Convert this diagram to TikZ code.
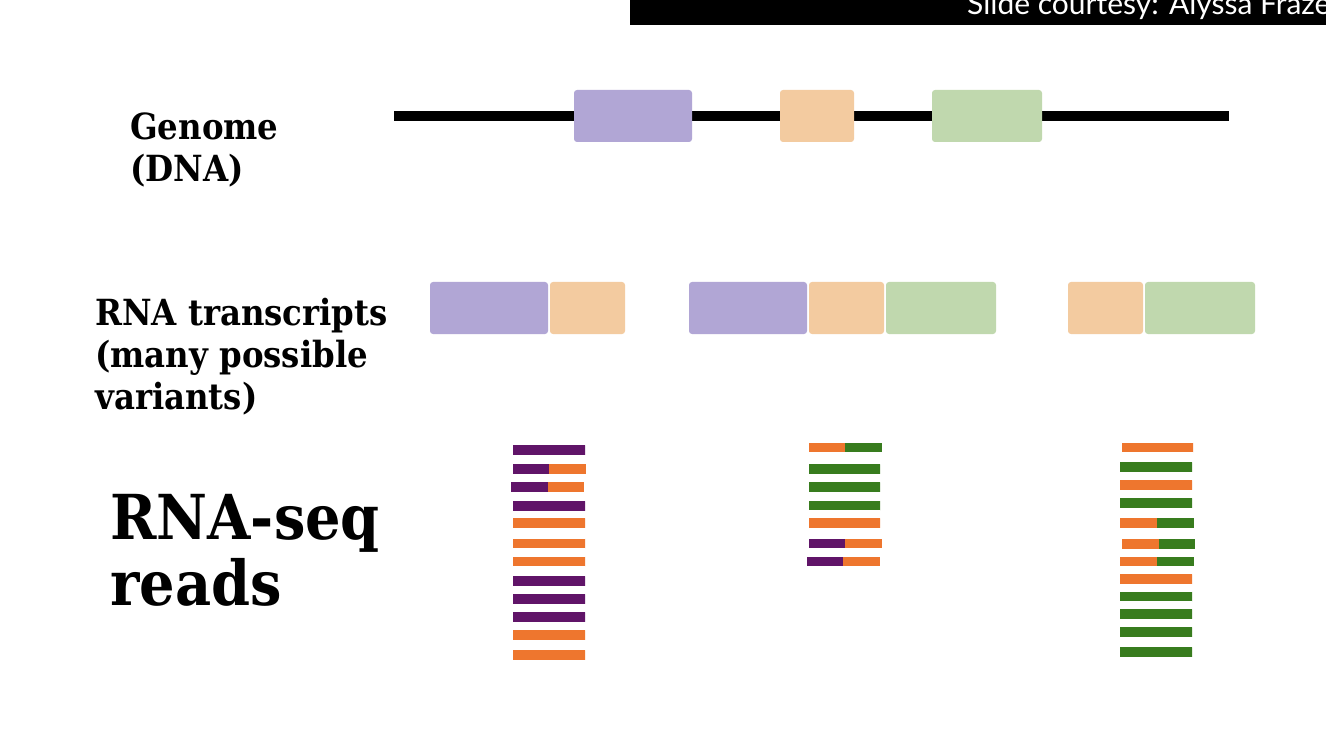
\documentclass[tikz,border=0pt]{standalone}
\usepackage{fontspec}
\setmainfont{DejaVu Serif}
\newfontfamily\labelfont{DejaVu Serif Condensed Bold}
\newfontfamily\creditfont{Lato}
\usetikzlibrary{positioning}
\definecolor{exonA}{RGB}{177,166,213}
\definecolor{exonB}{RGB}{243,203,160}
\definecolor{exonC}{RGB}{192,216,174}
\definecolor{readA}{RGB}{96,20,104}
\definecolor{readB}{RGB}{238,118,46}
\definecolor{readC}{RGB}{56,124,30}

\begin{document}
\begin{tikzpicture}[x=1pt, y=-1pt,
    exon/.style={rounded corners=3pt},
    rowlabel/.style={anchor=north west, inner sep=0pt, align=left, font=\labelfont\fontsize{36}{42}\selectfont}]
    % page and credit bar
    \fill[white] (0,0) rectangle (1326,738);
    \useasboundingbox (0,0) rectangle (1326,738);
    \fill[black] (630,0) rectangle (1326,25); % black strip at the top
    \begin{scope}
      \clip (630,0) rectangle (1326,25);
      \node[white, anchor=base west, inner sep=0pt, font=\creditfont\fontsize{30}{33}\selectfont] (credit) at (967,15) {Slide courtesy: Alyssa Frazee};
    \end{scope}

    % labels on the left
    \node[rowlabel] (genome) at (130,113) {Genome\\(DNA)};
    \node[rowlabel] (transcripts) at (95,298) {RNA transcripts\\(many possible\\variants)};
    \node[rowlabel, font=\labelfont\fontsize{62}{66}\selectfont] (seqreads) at (110,494) {RNA-seq\\reads};

    % genome line with the three exons
    \fill[black] (394,111) rectangle (1229,121);
    \fill[exonA, exon] (574,90) rectangle (692,142);
    \fill[exonB, exon] (780,90) rectangle (854,142);
    \fill[exonC, exon] (932,90) rectangle (1042,142);

    % transcript 1: exon A + exon B
    \fill[exonA, exon] (430,282) rectangle (548,334);
    \fill[exonB, exon] (550,282) rectangle (625,334);
    % transcript 2: exon A + exon B + exon C
    \fill[exonA, exon] (689,282) rectangle (807,334);
    \fill[exonB, exon] (809,282) rectangle (884,334);
    \fill[exonC, exon] (886,282) rectangle (996,334);
    % transcript 3: exon B + exon C
    \fill[exonB, exon] (1068,282) rectangle (1143,334);
    \fill[exonC, exon] (1145,282) rectangle (1255,334);

    % reads: y / left / split / right / colour left / colour right
    \foreach \y/\l/\s/\r/\ca/\cb in {
        450/513/585/585/readA/readA, 469/513/549/586/readA/readB,
        487/511/548/584/readA/readB, 506/513/585/585/readA/readA,
        523/513/585/585/readB/readB, 543.5/513/585/585/readB/readB,
        561.5/513/585/585/readB/readB, 581/513/585/585/readA/readA,
        599/513/585/585/readA/readA, 617/513/585/585/readA/readA,
        635/513/585/585/readB/readB, 655/513/585/585/readB/readB,
        % second transcript
        447.5/809/845/882/readB/readC, 469/809/880/880/readC/readC,
        487/809/880/880/readC/readC, 505.5/809/880/880/readC/readC,
        523/809/880/880/readB/readB, 543.5/809/845/882/readA/readB,
        561.5/807/843/880/readA/readB,
        % third transcript
        447.5/1122/1193/1193/readB/readB, 467/1120/1192/1192/readC/readC,
        485/1120/1192/1192/readB/readB, 503/1120/1192/1192/readC/readC,
        523/1120/1157/1194/readB/readC, 544/1122/1159/1195/readB/readC,
        561.5/1120/1157/1194/readB/readC, 579/1120/1192/1192/readB/readB,
        596.5/1120/1192/1192/readC/readC, 614/1120/1192/1192/readC/readC,
        632/1120/1192/1192/readC/readC, 652/1120/1192/1192/readC/readC}
    {
      \fill[\ca] (\l,\y-4.75) rectangle (\s,\y+4.75); % left part of the read
      \fill[\cb] (\s,\y-4.75) rectangle (\r,\y+4.75); % right part of the read
    }
\end{tikzpicture}
\end{document}
